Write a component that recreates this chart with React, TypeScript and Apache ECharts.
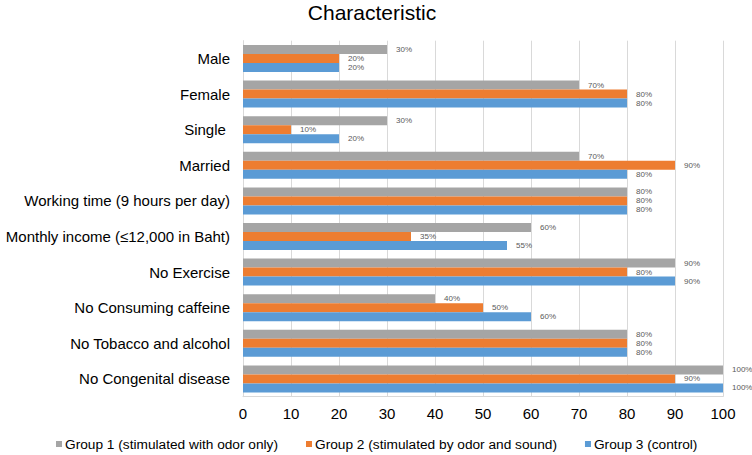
import React, { useEffect, useRef } from "react";
import * as echarts from "echarts";

const categories = [
  "Male",
  "Female",
  "Single ",
  "Married",
  "Working time (9 hours per day)",
  "Monthly income (≤12,000 in Baht)",
  "No Exercise",
  "No Consuming caffeine",
  "No Tobacco and alcohol",
  "No Congenital disease",
];
const group1 = [30, 70, 30, 70, 80, 60, 90, 40, 80, 100];
const group2 = [20, 80, 10, 90, 80, 35, 80, 50, 80, 90];
const group3 = [20, 80, 20, 80, 80, 55, 90, 60, 80, 100];
const seriesNames = [
  "Group 1 (stimulated with odor only)",
  "Group 2 (stimulated by odor and sound)",
  "Group 3 (control)",
];
const colors = ["#A5A5A5", "#ED7D31", "#5B9BD5"];
const xTicks = [0, 10, 20, 30, 40, 50, 60, 70, 80, 90, 100];

const FONT = "'Liberation Sans', Arial, sans-serif";

export default function App() {
  const ref = useRef<HTMLDivElement>(null);
  useEffect(() => {
    if (!ref.current) return;
    const chart = echarts.init(ref.current, undefined, { renderer: "svg" });
    const data = [group1, group2, group3];
    chart.setOption({
      animation: false,
      graphic: [
        {
          type: "text",
          x: 372,
          y: 12,
          style: {
            text: "Characteristic",
            fontFamily: FONT,
            fontSize: 21,
            fill: "#000",
            align: "center",
            verticalAlign: "middle",
          },
        },
      ],
      legend: {
        top: 437,
        left: 56,
        padding: 0,
        itemWidth: 6,
        itemHeight: 6,
        itemGap: 28,
        icon: "rect",
        textStyle: { fontFamily: FONT, fontSize: 13.7, color: "#000", padding: [0, 0, 0, -2] },
        data: seriesNames,
      },
      grid: { left: 243, right: 29, top: 40.7, bottom: 58.3, outerBoundsMode: "none", containLabel: false },
      xAxis: {
        type: "value",
        min: 0,
        max: 100,
        interval: 10,
        axisLine: { show: true, lineStyle: { color: "#D9D9D9" } },
        axisTick: { show: false },
        splitLine: { show: true, lineStyle: { color: "#D9D9D9", width: 1 } },
        axisLabel: {
          fontFamily: FONT,
          fontSize: 15,
          color: "#000",
          margin: 9,
          formatter: (v: number) => (xTicks.includes(v) ? String(v) : ""),
        },
      },
      yAxis: {
        type: "category",
        inverse: true,
        data: categories,
        axisLine: { show: true, lineStyle: { color: "#D9D9D9" } },
        axisTick: { show: false },
        axisLabel: { fontFamily: FONT, fontSize: 15, color: "#000", margin: 13 },
      },
      series: seriesNames.map((name, i) => ({
        name,
        type: "bar",
        data: data[i],
        barWidth: 9,
        barGap: "0%",
        itemStyle: { color: colors[i] },
        label: {
          show: true,
          position: "right",
          distance: 9,
          formatter: (p: any) => p.value + "%",
          fontFamily: FONT,
          fontSize: 8,
          color: "#595959",
        },
      })),
    });
    return () => chart.dispose();
  }, []);
  return (
    <div
      ref={ref}
      style={{ position: "absolute", left: 0, top: 0, width: 752, height: 455 }}
    />
  );
}
